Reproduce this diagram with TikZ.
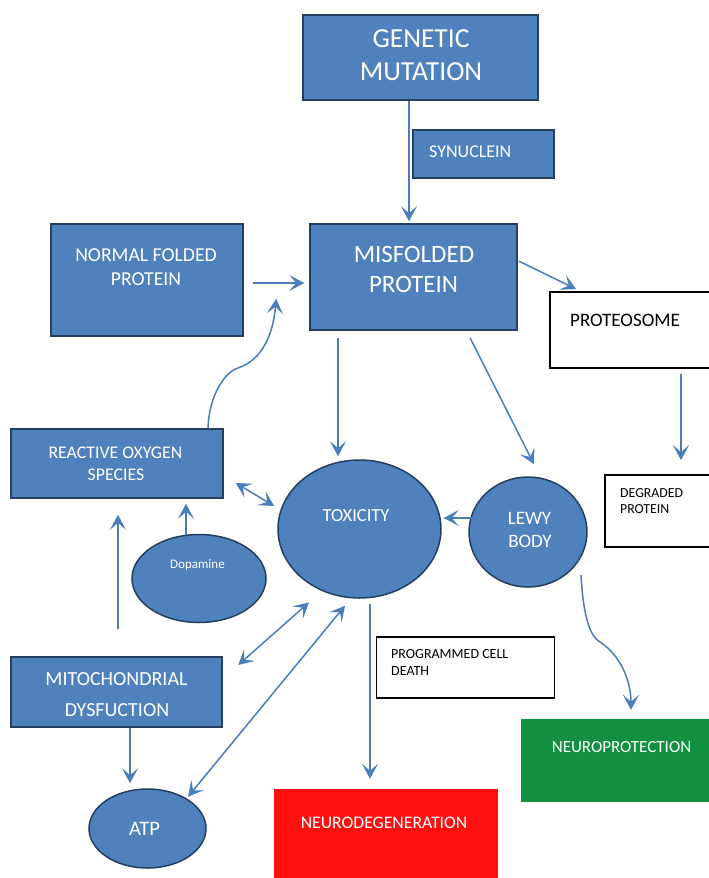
\documentclass[tikz,border=0pt]{standalone}
\usepackage{fontspec}
\setmainfont{Carlito}
\usetikzlibrary{arrows.meta,shapes.geometric,calc}
\definecolor{boxblue}{HTML}{4F81BD}
\definecolor{boxedge}{HTML}{243F60}
\definecolor{arrowblue}{HTML}{4A7EBB}
\definecolor{ndred}{HTML}{FF0F0F}
\definecolor{npgreen}{HTML}{11913F}
\newcommand{\fs}[1]{\fontsize{#1}{#1}\selectfont}
\begin{document}
\begin{tikzpicture}[x=1pt,y=-1pt,
 bluebox/.style={draw=boxedge, line width=1.5pt, fill=boxblue, rectangle, inner sep=0pt},
 whitebox/.style={draw=black, line width=1.8pt, fill=white, rectangle, inner sep=0pt},
 blueell/.style={draw=boxedge, line width=1.5pt, fill=boxblue, ellipse, inner sep=0pt},
 flatbox/.style={rectangle, inner sep=0pt, draw=none},
 wt/.style={text=white, inner sep=0pt, anchor=base},
 bt/.style={text=black, inner sep=0pt, anchor=base west},
 tipv/.tip={Stealth[length=15pt,width=16pt,inset=7pt]},
 arr/.style={draw=arrowblue, line width=1.5pt, -tipv},
 darr/.style={draw=arrowblue, line width=1.5pt, tipv-tipv},
]
\useasboundingbox (0,0) rectangle (709,878);
\clip (0,0) rectangle (709,878);
\fill[white] (0,0) rectangle (709,878);

% boxes
\node[bluebox, minimum width=235pt, minimum height=85pt] (gm) at (420.5,57.5) {};
\node[bluebox, minimum width=141pt, minimum height=48pt] (syn) at (483.5,154) {};
\node[bluebox, minimum width=207pt, minimum height=106pt] (mf) at (413.5,277) {};
\node[bluebox, minimum width=192pt, minimum height=112pt] (nf) at (147,280) {};
\node[whitebox, minimum width=162pt, minimum height=76pt] (prot) at (631,330) {};
\node[whitebox, minimum width=107pt, minimum height=72pt] (deg) at (658.5,511) {};
\node[bluebox, minimum width=212pt, minimum height=69pt] (ros) at (117,463.5) {};
\node[blueell, minimum width=163pt, minimum height=138pt] (tox) at (359.5,529) {};
\node[blueell, minimum width=118pt, minimum height=110pt] (lewy) at (528,532) {};
\node[blueell, minimum width=134pt, minimum height=88pt] (dop) at (199,578.5) {};
\node[bluebox, minimum width=211pt, minimum height=70pt] (mito) at (116.5,692) {};
\node[blueell, minimum width=117pt, minimum height=79pt] (atp) at (147.5,828.5) {};
\node[whitebox, minimum width=178pt, minimum height=61pt] (pcd) at (465.5,667.5) {};
\node[flatbox, fill=ndred, minimum width=224pt, minimum height=92pt] (nd) at (385.5,835) {};
\node[flatbox, fill=npgreen, minimum width=191pt, minimum height=83pt] (np) at (616.5,760.5) {};

% texts
\node[wt, font=\fs{27.5}] (gmt1) at (421,47) {GENETIC};
\node[wt, font=\fs{27.5}] (gmt2) at (421,80) {MUTATION};
\node[wt, anchor=base west, font=\fs{18}] (synt) at (429,157) {SYNUCLEIN};
\node[wt, font=\fs{25}] (mft1) at (414,262) {MISFOLDED};
\node[wt, font=\fs{25}] (mft2) at (413.5,292) {PROTEIN};
\node[wt, font=\fs{19.7}] (nft1) at (146,261) {NORMAL FOLDED};
\node[wt, font=\fs{19.7}] (nft2) at (146,285) {PROTEIN};
\node[bt, font=\fs{19}] (prott) at (570,326) {PROTEOSOME};
\node[bt, font=\fs{13.8}] (degt1) at (620,497) {DEGRADED};
\node[bt, font=\fs{13.8}] (degt2) at (620,513) {PROTEIN};
\node[wt, font=\fs{17.8}] (rost1) at (115.5,458) {REACTIVE OXYGEN};
\node[wt, font=\fs{17.8}] (rost2) at (116,480) {SPECIES};
\node[wt, font=\fs{18.5}] (toxt) at (356,521) {TOXICITY};
\node[wt, font=\fs{19}] (lewyt1) at (529.5,524) {LEWY};
\node[wt, font=\fs{19}] (lewyt2) at (530,547) {BODY};
\node[wt, font=\fs{13}] (dopt) at (197.5,568) {Dopamine};
\node[wt, font=\fs{20}] (mitot1) at (116.5,685) {MITOCHONDRIAL};
\node[wt, font=\fs{20}] (mitot2) at (117,716) {DYSFUCTION};
\node[wt, font=\fs{20.6}] (atpt) at (144.5,835) {ATP};
\node[bt, font=\fs{14}] (pcdt1) at (391,658) {PROGRAMMED CELL};
\node[bt, font=\fs{14}] (pcdt2) at (391,675) {DEATH};
\node[wt, font=\fs{17.7}] (ndt) at (384,828) {NEURODEGENERATION};
\node[wt, font=\fs{17}] (npt) at (621.5,752) {NEUROPROTECTION};

% connectors
\draw[arr] ($(gm.south)+(-11.5,0)$) -- ($(mf.north)+(-4.5,-2)$);
\draw[arr, line width=1.8pt] ($(nf.east)+(9,3)$) -- ($(mf.west)+(-5,6)$);
\draw[arr] ($(mf.east)+(1,-16)$) -- ($(prot.north west)+(27,-2)$);
\draw[arr] ($(prot.south)+(50,5)$) -- ($(deg.north)+(22.5,-14)$);
\draw[arr] ($(ros.north)+(91,0)$) .. controls (209,395) and (225,372) .. (238,368)
   .. controls (262,360) and (273,335) .. ($(mf.south west)+(-33,-32)$);
\draw[arr] ($(mf.south)+(-75.5,7)$) -- ($(tox.north)+(-21.5,-3)$);
\draw[arr] ($(mf.south)+(56.5,7)$) -- ($(lewy.north)+(6,-12)$);
\draw[arr] ($(lewy.west)+(4,-14)$) -- ($(tox.east)+(2,-11)$);
\draw[darr] ($(ros.east)+(12,19.5)$) -- ($(tox.west)+(-3,-23)$);
\draw[arr] ($(dop.north)+(-13,1.5)$) -- ($(ros.south)+(69,5)$);
\draw[arr] ($(mito.north)+(1.5,-27)$) -- ($(ros.south)+(1,16)$);
\draw[darr] ($(mito.north east)+(15.5,8.7)$) -- ($(tox.south)+(-50.5,3.7)$);
\draw[darr] ($(atp.center)+(40.5,-31.8)$) -- ($(tox.south)+(-14.5,7)$);
\draw[arr] ($(mito.south)+(13.5,0)$) -- ($(atp.north)+(-17.5,-5)$);
\draw[arr] ($(tox.south)+(10.5,5)$) -- ($(nd.north)+(-15.5,-10)$);
\draw[arr] ($(lewy.center)+(53,43)$) .. controls (583,610) and (588,635) .. (600,642)
   .. controls (620,655) and (631,680) .. ($(np.north)+(14.5,-9)$);
\end{tikzpicture}
\end{document}
